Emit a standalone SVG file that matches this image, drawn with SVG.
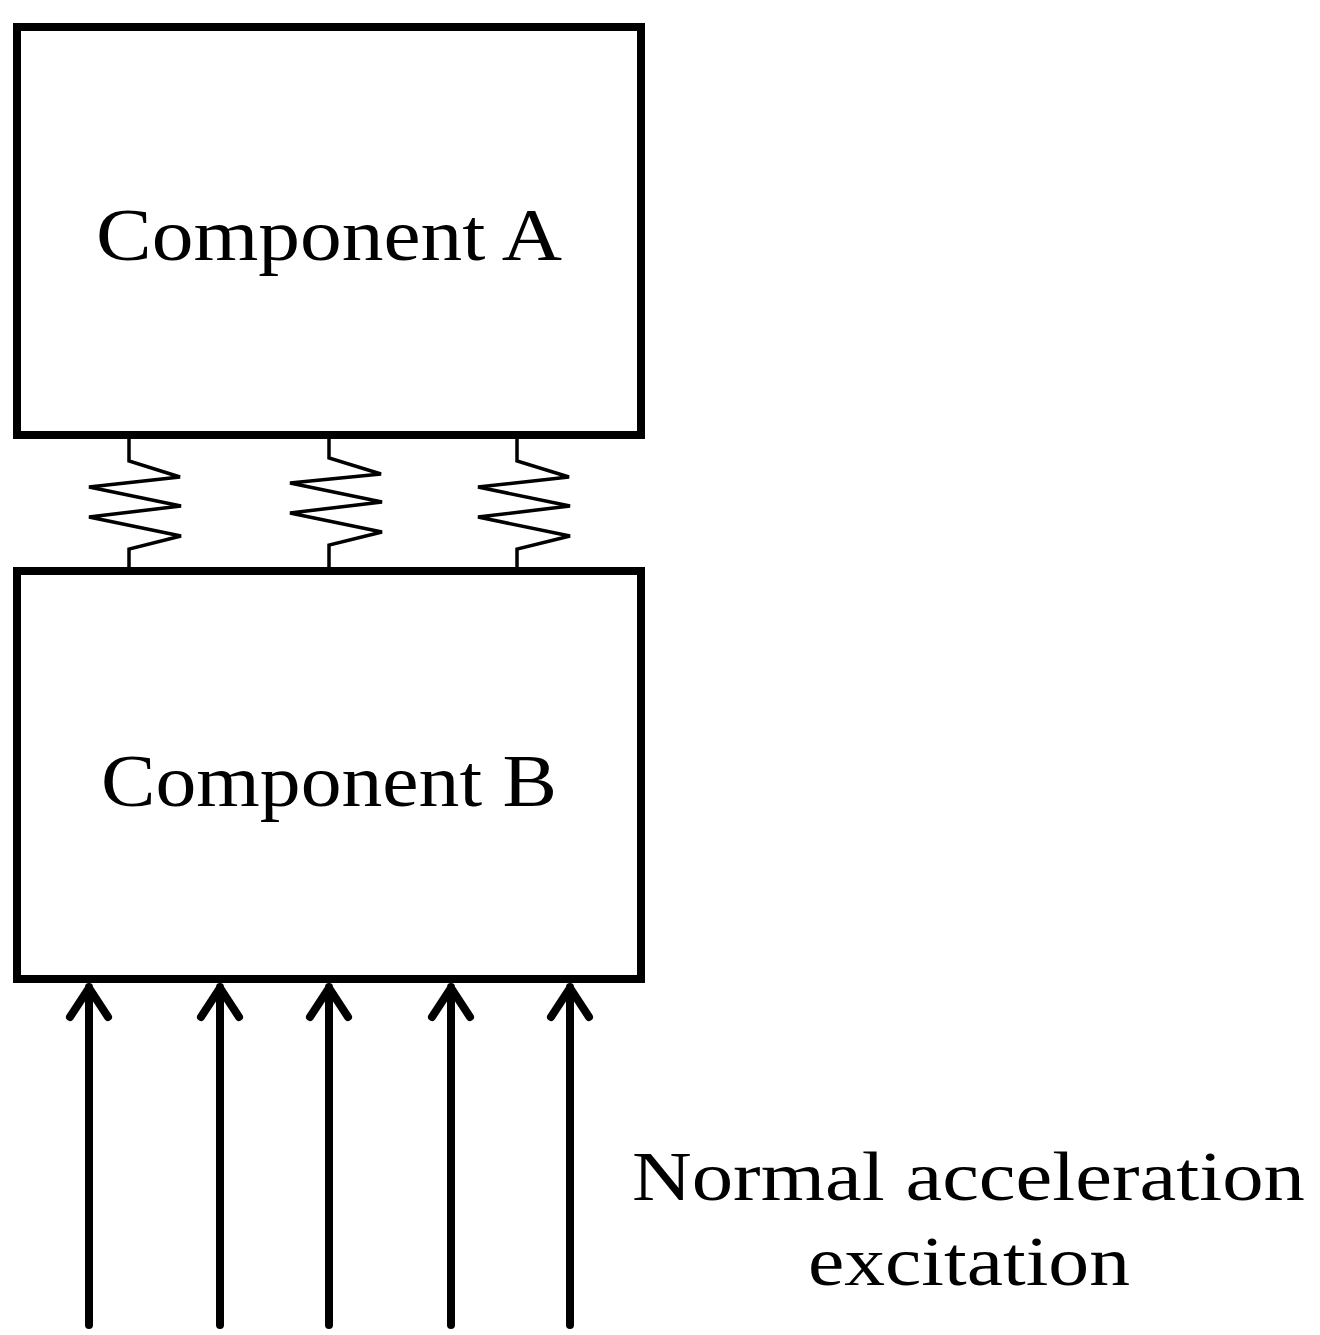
<svg xmlns="http://www.w3.org/2000/svg" width="1320" height="1335" viewBox="0 0 1320 1335">
<style>
.box{fill:#fff;stroke:#000;stroke-width:8}
.sp{fill:none;stroke:#000;stroke-width:3.5;stroke-linejoin:miter}
.ar{fill:none;stroke:#000;stroke-width:8;stroke-linecap:round;stroke-linejoin:round}
text{font-family:"Liberation Serif",serif;fill:#000}
</style>
<rect width="1320" height="1335" fill="#fff"/>
<g id="connectors">
<path class="sp" d="M129,438 V461 L180,477 L89,487 L181,506 L89,517 L181,536 L129,549 V572"/>
<path class="sp" d="M329,438 V458 L381,474 L290,483 L382,502 L290,513 L382,532 L329,545 V572"/>
<path class="sp" d="M517,438 V461 L569,477 L478,487 L570,506 L478,517 L570,536 L517,549 V572"/>
<g class="ar">
<path d="M89,1325 V987 M70,1017 L89,988 L108,1017"/>
<path d="M220,1325 V987 M201,1017 L220,988 L239,1017"/>
<path d="M329,1325 V987 M310,1017 L329,988 L348,1017"/>
<path d="M451,1325 V987 M432,1017 L451,988 L470,1017"/>
<path d="M570,1325 V987 M551,1017 L570,988 L589,1017"/>
</g>
</g>
<g id="compA"><rect class="box" x="17" y="27" width="624" height="408"/><text x="96" y="260" font-size="74" textLength="466" lengthAdjust="spacingAndGlyphs">Component A</text></g>
<g id="compB"><rect class="box" x="17" y="571" width="624" height="408"/><text x="101" y="806" font-size="74" textLength="456" lengthAdjust="spacingAndGlyphs">Component B</text></g>
<g id="label"><text x="632" y="1200" font-size="70" textLength="673" lengthAdjust="spacingAndGlyphs">Normal acceleration</text><text x="808" y="1285" font-size="70" textLength="322" lengthAdjust="spacingAndGlyphs">excitation</text></g>
</svg>
